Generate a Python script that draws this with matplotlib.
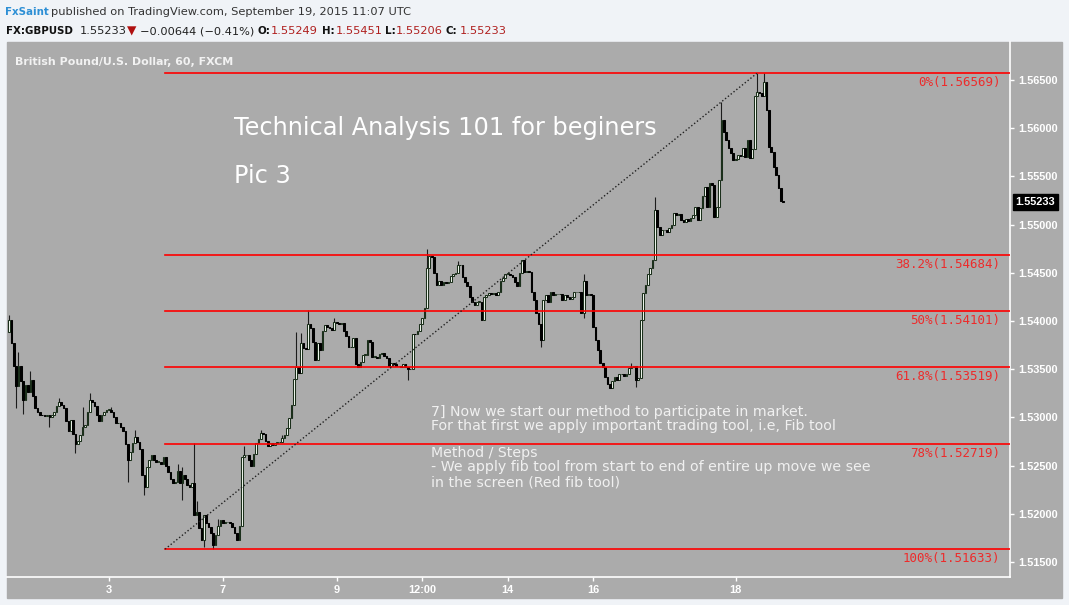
import numpy as np
import matplotlib
matplotlib.use("Agg")
import matplotlib.pyplot as plt
from matplotlib.patches import Rectangle

# hourly GBPUSD candles, closes in pips above 1.5000
first_open = 389
closes = [
    401, 377, 353, 333, 353, 338, 318, 334, 326, 339,
    322, 310, 306, 303, 302, 301, 302, 300, 303, 306,
    312, 316, 313, 310, 296, 286, 297, 283, 272, 276,
    282, 290, 292, 306, 318, 316, 312, 302, 296, 302,
    306, 308, 308, 306, 300, 294, 294, 290, 286, 272,
    256, 264, 273, 280, 274, 267, 240, 228, 249, 256,
    261, 256, 254, 254, 252, 259, 250, 243, 236, 232,
    233, 244, 232, 240, 236, 230, 228, 232, 199, 202,
    185, 173, 199, 190, 186, 180, 168, 178, 187, 194,
    190, 191, 192, 190, 186, 180, 173, 187, 259, 261,
    261, 256, 250, 262, 273, 278, 284, 283, 276, 270,
    273,
    271, 273, 274, 275, 279, 282, 289, 299, 313, 340,
    352, 346, 377, 372, 371, 397, 393, 378, 360, 377,
    370, 390, 396, 394, 393, 391, 399, 398, 397, 398,
    390, 384, 373, 373, 382, 355, 352, 357, 365, 365,
    380, 378, 363, 363, 362, 366, 367, 364, 362, 353,
    356, 355, 353, 353, 352, 355, 352, 350, 350, 387,
    386, 390, 397, 403, 413, 455, 467, 466, 450, 437,
    441, 437, 440, 439, 440, 447, 449, 450, 458, 458,
    446, 440, 436, 425, 420, 417, 420, 420, 401, 425,
    427, 429, 428, 429, 427, 430, 441, 445, 449, 449,
    448, 446, 440, 436, 450, 463, 451, 452, 451, 430,
    422, 408, 397, 380, 422, 427, 420, 430, 427, 428,
    428, 428, 422, 427, 425, 423, 425, 430, 430, 430,
    408, 441, 427, 428, 427, 394, 380, 370, 356, 352,
    342, 335, 330, 338, 342, 339, 345, 345, 343, 345,
    351, 352, 353, 339, 341, 401, 429, 437, 449, 455,
    463, 515, 498, 489, 494, 494, 492, 496, 500, 512,
    510, 511, 505, 503, 506, 504, 507, 510, 518, 505,
    517, 530, 539, 518, 543, 541, 508, 518, 546, 608,
    596, 588, 579, 574, 567, 568, 572, 571, 579, 570,
    588, 569, 578, 633, 638, 636, 633, 648, 619, 581,
    575, 560, 551, 538, 525, 523,
]
# visible wick extremes (pips), keyed by candle index
wick_highs = {0: 406, 4: 368, 9: 348, 21: 320, 31: 311, 34: 325, 43: 311,
              53: 287, 71: 252, 73: 249, 78: 273, 79: 213, 88: 195, 99: 270,
              106: 287, 115: 282, 121: 389, 123: 388, 126: 411, 137: 403,
              176: 475, 189: 462, 242: 449, 262: 356, 272: 529, 300: 627,
              315: 657, 318: 657}
wick_lows = {3: 310, 6: 304, 17: 290, 28: 263, 50: 233, 57: 220, 73: 214,
             82: 166, 86: 163, 168: 339, 224: 373, 242: 403, 264: 332}

fib_pct = ["0%", "38.2%", "50%", "61.8%", "78%", "100%"]
fib_px = [1.56569, 1.54684, 1.54101, 1.53519, 1.52719, 1.51633]
fib_from = 65.7      # candle index where the fib tool starts
fib_to = 314.9       # candle index of the swing high end

tick_pos = [42, 90, 138, 174, 210, 246, 306]
tick_lbl = ["3", "7", "9", "12:00", "14", "16", "18"]
last_price = 1.55233

W, H = 1069, 605
bg = "#f0f3f7"
panel = "#ababab"


def fx(px):
    return px / W


def fy(py):
    return 1 - py / H


fig = plt.figure(figsize=(W / 100, H / 100), dpi=100, facecolor=bg)
fig.patches.append(Rectangle((fx(7), fy(598)), fx(1062) - fx(7), fy(42) - fy(598),
                             transform=fig.transFigure, color=panel, zorder=-5))

ax = fig.add_axes([fx(7), fy(577), (1010 - 7) / W, (577 - 42) / H])
ax.set_facecolor(panel)
ax.set_zorder(1)

c = 1.5 + np.array(closes) / 1e4
o = np.concatenate([[1.5 + first_open / 1e4], c[:-1]])
hi = np.maximum(o, c)
lo = np.minimum(o, c)
for k, v in wick_highs.items():
    hi[k] = max(hi[k], 1.5 + v / 1e4)
for k, v in wick_lows.items():
    lo[k] = min(lo[k], 1.5 + v / 1e4)
x = np.arange(len(c))
up = c >= o

ax.vlines(x, lo, hi, color="#1c1c1c", lw=0.8, zorder=2)
body_lo = np.minimum(o, c)
body_h = np.maximum(np.abs(c - o), 0.00005)
ax.bar(x[up], body_h[up], bottom=body_lo[up], width=0.72, color="#f4fbf2",
       edgecolor="#1b2f1b", linewidth=0.75, zorder=3)
ax.bar(x[~up], body_h[~up], bottom=body_lo[~up], width=0.72, color="#000000",
       edgecolor="#000000", linewidth=0.75, zorder=3)

# fib levels
for pct, lvl in zip(fib_pct, fib_px):
    ax.plot([fib_from, 421.5], [lvl, lvl], color="#ff0000", lw=1.2, zorder=4)
    ax.annotate(f"{pct}({lvl:.5f})", xy=(1, lvl), xycoords=("axes fraction", "data"),
                xytext=(-7, -2), textcoords="offset points", ha="right", va="top",
                color="#ee2a2a", fontsize=9, family="DejaVu Sans Mono")
ax.plot([fib_from, fib_to], [fib_px[-1], fib_px[0]], color="#202020", lw=1.0,
        ls=(0, (1, 1.6)), zorder=4)

ax.set_xlim(-0.84, 421.5)
ax.set_ylim(1.513444, 1.568942)

ax.yaxis.tick_right()
yt = np.arange(1.515, 1.5651, 0.005)
ax.set_yticks(yt)
ax.set_yticklabels([f"{v:.5f}" for v in yt], family="Liberation Sans",
                   fontweight="bold", fontsize=7.9)
ax.set_xticks(tick_pos)
ax.set_xticklabels(tick_lbl, family="Liberation Sans", fontweight="bold", fontsize=7.9)
ax.tick_params(axis="both", colors="white", length=3, width=1)
ax.tick_params(axis="y", pad=3)
ax.tick_params(axis="x", pad=3)
for s in ["left", "top"]:
    ax.spines[s].set_visible(False)
for s in ["right", "bottom"]:
    ax.spines[s].set_color("white")
    ax.spines[s].set_linewidth(1.2)

ax.annotate(f"{last_price:.5f}", xy=(1, last_price), xycoords=("axes fraction", "data"),
            xytext=(4, 0), textcoords="offset points", ha="left", va="center",
            color="white", fontsize=7.9, family="Liberation Sans", fontweight="bold",
            bbox=dict(boxstyle="square,pad=0.25", fc="black", ec="black"), zorder=6,
            annotation_clip=False)

# header
hdr = dict(va="center", fontsize=8.2, family="DejaVu Sans")
hdb = dict(va="center", fontsize=7.4, family="DejaVu Sans", fontweight="bold")
fig.text(fx(5), fy(12), "FxSaint", color="#2d8fd5", **hdb)
fig.text(fx(51), fy(12), "published on TradingView.com, September 19, 2015 11:07 UTC",
         color="#333333", **hdr)
fig.text(fx(6), fy(31), "FX:GBPUSD", color="#111111", **hdb)
fig.text(fx(80), fy(31), "1.55233", color="#222222", **hdr)
fig.text(fx(127), fy(31), "\u25bc", color="#b01010", fontsize=8.8, va="center")
fig.text(fx(140), fy(31), "\u22120.00644 (\u22120.41%)", color="#222222", **hdr)
for lab, val, px_lab, px_val in [("O:", "1.55249", 257, 271), ("H:", "1.55451", 322, 336),
                                 ("L:", "1.55206", 385, 396), ("C:", "1.55233", 446, 460)]:
    fig.text(fx(px_lab), fy(31), lab, color="#111111", **hdb)
    fig.text(fx(px_val), fy(31), val, color="#b0201f", **hdr)

fig.text(fx(15), fy(62), "British Pound/U.S. Dollar, 60, FXCM", color="#f2f2f2",
         fontsize=7.9, fontweight="bold", va="center", zorder=5)

fig.text(fx(234), fy(128), "Technical Analysis 101 for beginers", color="white",
         fontsize=17.3, va="center", zorder=5)
fig.text(fx(234), fy(176), "Pic 3", color="white", fontsize=17.3, va="center", zorder=5)

note = dict(color="#f0f0f0", fontsize=10.2, va="center", zorder=5)
fig.text(fx(431), fy(412), "7] Now we start our method to participate in market.", **note)
fig.text(fx(431), fy(426), "For that first we apply important trading tool, i.e, Fib tool", **note)
fig.text(fx(431), fy(453), "Method / Steps", **note)
fig.text(fx(431), fy(467), "- We apply fib tool from start to end of entire up move we see", **note)
fig.text(fx(431), fy(482), "in the screen (Red fib tool)", **note)

fig.savefig("out.png", dpi=100, facecolor=bg)
